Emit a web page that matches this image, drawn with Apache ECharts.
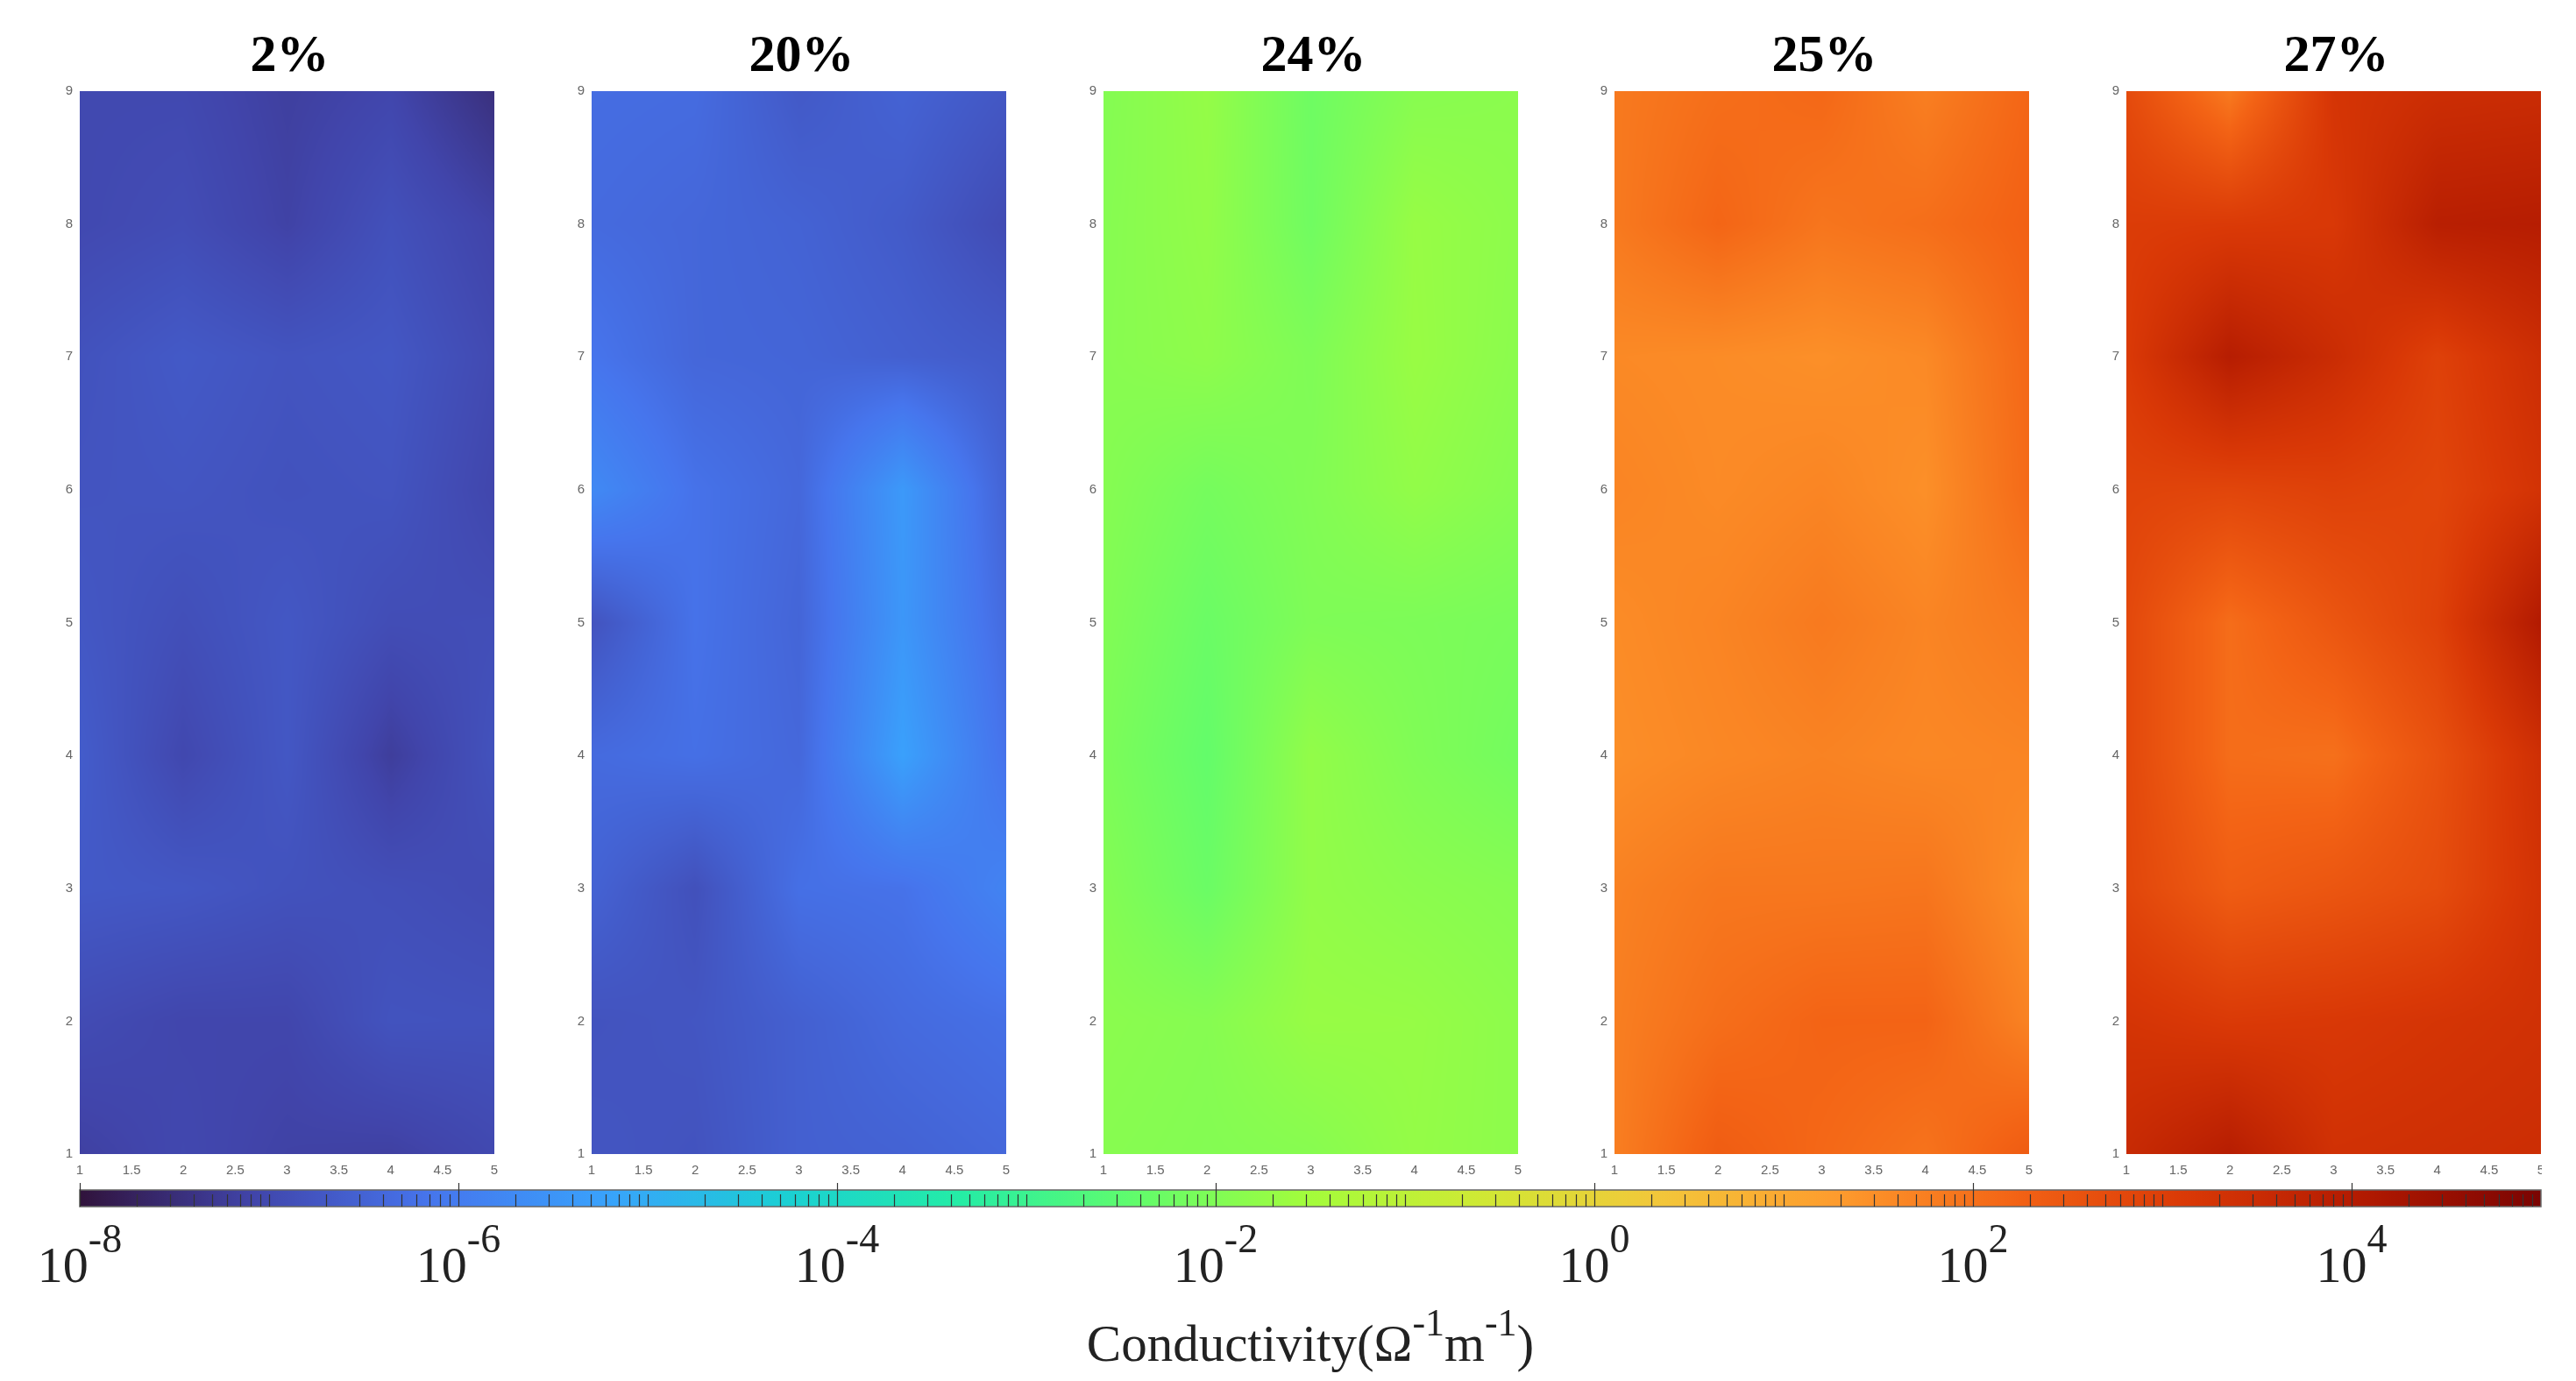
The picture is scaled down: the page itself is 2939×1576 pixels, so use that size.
<!DOCTYPE html>
<html><head><meta charset="utf-8">
<style>html,body{margin:0;padding:0;background:#fff}#c{width:2939px;height:1576px}</style>
<script src="https://cdn.jsdelivr.net/npm/echarts@6/dist/echarts.min.js"></script>
</head><body><div id="c"></div>
<script>
// log10(conductivity) at nodes; rows run y = 9 ... 1, columns x = 1 ... 5
const panelTitles = ['2%','20%','24%','25%','27%'];
const panel2pct = [
 [-7.0,-7.0,-7.17,-7.05,-7.45],
 [-7.0,-6.92,-7.12,-6.85,-7.1],
 [-6.82,-6.68,-6.78,-6.72,-6.98],
 [-6.78,-6.75,-6.82,-6.78,-7.05],
 [-6.72,-6.88,-6.72,-6.92,-6.9],
 [-6.62,-7.02,-6.72,-7.2,-6.82],
 [-6.68,-6.72,-6.82,-6.88,-6.95],
 [-6.95,-7.05,-7.05,-6.8,-6.82],
 [-7.15,-7.02,-7.12,-7.15,-7.0]];
const panel20pct = [
 [-6.3,-6.33,-6.68,-6.5,-6.72],
 [-6.35,-6.42,-6.5,-6.65,-6.95],
 [-6.15,-6.42,-6.45,-6.55,-6.65],
 [-5.72,-6.2,-6.4,-5.4,-6.5],
 [-6.8,-6.2,-6.45,-5.45,-6.35],
 [-6.35,-6.25,-6.4,-5.25,-6.2],
 [-6.5,-6.85,-6.25,-6.2,-5.85],
 [-6.8,-6.75,-6.55,-6.35,-6.25],
 [-6.75,-6.8,-6.55,-6.5,-6.4]];
const panel24pct = [
 [-1.95,-1.72,-2.25,-1.9,-1.85],
 [-1.92,-1.75,-2.22,-1.68,-1.82],
 [-1.9,-1.8,-2.02,-1.66,-1.85],
 [-1.92,-2.15,-1.98,-1.75,-1.92],
 [-1.98,-2.3,-2.02,-2.05,-2.1],
 [-2.05,-2.4,-1.75,-2.0,-2.18],
 [-1.95,-2.3,-1.75,-1.85,-1.92],
 [-1.85,-1.92,-1.68,-1.7,-1.82],
 [-1.9,-1.95,-1.9,-1.72,-1.82]];
const panel25pct = [
 [1.84,2.03,2.14,1.76,2.18],
 [1.84,2.18,1.91,2.03,2.26],
 [1.58,1.54,1.48,1.58,2.14],
 [1.66,1.56,1.65,1.48,2.1],
 [1.54,1.66,1.84,1.66,1.84],
 [1.5,1.61,1.69,1.61,1.66],
 [1.71,1.88,1.88,1.91,1.5],
 [1.76,2.03,2.21,2.21,1.69],
 [1.76,2.35,2.14,1.95,2.38]];
const panel27pct = [
 [2.75,1.83,3.25,3.45,3.5],
 [3.05,3.1,3.15,3.9,3.95],
 [3.1,3.95,3.5,2.95,3.45],
 [2.9,2.85,2.95,2.85,3.3],
 [2.8,2.05,2.5,2.95,4.05],
 [2.8,2.05,2.0,2.6,3.4],
 [2.85,2.35,2.5,2.7,3.3],
 [3.25,3.1,3.15,3.25,3.35],
 [3.55,3.95,3.35,3.4,3.45]];
const panels = [panel2pct, panel20pct, panel24pct, panel25pct, panel27pct];
const nodeXs = [1,2,3,4,5];
const nodeYs = [9,8,7,6,5,4,3,2,1];
const colorbarRange = [-8, 5];
const colorbarDecades = [-8,-7,-6,-5,-4,-3,-2,-1,0,1,2,3,4];
const minorMultipliers = [2,3,4,5,6,7,8,9];
const majorExponents = [-8,-6,-4,-2,0,2,4];
const turboColors = [[48,18,59],[65,69,171],[70,117,237],[57,162,252],[27,207,212],[36,236,166],[97,252,108],[164,252,59],[209,232,52],[243,198,58],[254,155,45],[243,99,21],[217,56,6],[177,25,1],[122,4,2]];

function turbo(t){
  t = Math.max(0, Math.min(1, t)) * (turboColors.length-1);
  const i = Math.min(Math.floor(t), turboColors.length-2), f = t-i;
  const a = turboColors[i], b = turboColors[i+1];
  return [a[0]+(b[0]-a[0])*f, a[1]+(b[1]-a[1])*f, a[2]+(b[2]-a[2])*f].map(Math.round);
}
const toT = v => (v-colorbarRange[0])/(colorbarRange[1]-colorbarRange[0]);

function cellRenderer(rows){
  return function(params, api){
    const xv = api.value(0), yv = api.value(1);
    if (xv >= 5 || yv >= 9) return null;
    const a = api.coord([xv, yv+1]), b = api.coord([xv+1, yv]);
    const x0 = Math.round(a[0]), y0 = Math.round(a[1]), x1 = Math.round(b[0]), y1 = Math.round(b[1]);
    const w = x1-x0, h = y1-y0;
    const c = document.createElement('canvas'); c.width = w; c.height = h;
    const g = c.getContext('2d'), im = g.createImageData(w,h);
    const col = xv-1, row = 9-yv;
    const tl = rows[row-1][col], tr = rows[row-1][col+1], bl = rows[row][col], br = rows[row][col+1];
    for (let j=0;j<h;j++){ const v=(j+.5)/h;
      for (let i=0;i<w;i++){ const u=(i+.5)/w;
        const val = (tl*(1-u)+tr*u)*(1-v)+(bl*(1-u)+br*u)*v;
        const rgb = turbo(toT(val)); const k=(j*w+i)*4;
        im.data[k]=rgb[0]; im.data[k+1]=rgb[1]; im.data[k+2]=rgb[2]; im.data[k+3]=255;
      }
    }
    g.putImageData(im,0,0);
    return {type:'image', silent:true, style:{image:c, x:x0, y:y0, width:w, height:h}};
  };
}

const panelLeft = [91,675,1259,1842,2426], panelW = 473, panelTop = 104, panelH = 1213;
const grids=[], xAxes=[], yAxes=[], series=[], titles=[];
panels.forEach((rows,i)=>{
  grids.push({left:panelLeft[i], top:panelTop, width:panelW, height:panelH, outerBoundsMode:'none'});
  xAxes.push({type:'value', gridIndex:i, min:1, max:5, interval:0.5,
    axisLine:{show:false}, axisTick:{show:false}, splitLine:{show:false},
    axisLabel:{color:'#666', fontSize:15, fontFamily:'Liberation Sans', margin:11}});
  yAxes.push({type:'value', gridIndex:i, min:1, max:9, interval:1,
    axisLine:{show:false}, axisTick:{show:false}, splitLine:{show:false},
    axisLabel:{color:'#666', fontSize:15, fontFamily:'Liberation Sans', margin:8, padding:[4,0,0,0]}});
  const data=[];
  nodeYs.forEach((y,r)=>nodeXs.forEach((x,c)=>data.push([x,y,rows[r][c]])));
  series.push({type:'custom', name:panelTitles[i], xAxisIndex:i, yAxisIndex:i, data,
    encode:{x:0,y:1}, clip:false, animation:false, silent:true, renderItem:cellRenderer(rows)});
  titles.push({text:panelTitles[i], left:panelLeft[i]+panelW/2-2, top:30, textAlign:'center',
    textStyle:{fontFamily:'Liberation Serif', fontWeight:'bold', fontSize:60, color:'#000'}});
});

// colour bar
const cb = panels.length;
grids.push({left:91, top:1358, width:2808, height:19, outerBoundsMode:'none'});
xAxes.push({type:'value', gridIndex:cb, min:colorbarRange[0], max:colorbarRange[1], interval:2,
  axisLine:{show:false}, axisTick:{show:false}, splitLine:{show:false},
  axisLabel:{margin:14, showMaxLabel:false, hideOverlap:false,
    formatter:v=> majorExponents.includes(v) ? '{a|10}{b|'+v+'}' : '',
    rich:{a:{fontFamily:'Liberation Serif',fontSize:58,color:'#222',padding:[28,0,0,0]},
          b:{fontFamily:'Liberation Serif',fontSize:46,color:'#222',padding:[0,0,34,0]}}},
  name:'{a|Conductivity(Ω}{s|-1}{a|m}{s|-1}{a|)}', nameLocation:'middle', nameGap:111,
  nameTextStyle:{rich:{a:{fontFamily:'Liberation Serif',fontSize:59,color:'#222',padding:[20,0,0,0]},
    s:{fontFamily:'Liberation Serif',fontSize:44,color:'#222',padding:[0,0,30,0]}}}});
yAxes.push({type:'value', gridIndex:cb, min:0, max:1, show:false});
series.push({type:'custom', name:'colorbar', xAxisIndex:cb, yAxisIndex:cb, data:[colorbarRange],
  encode:{x:[0,1]}, clip:false, animation:false, silent:true, z:2,
  renderItem:(p,api)=>{
    const a=api.coord([api.value(0),1]), b=api.coord([api.value(1),0]);
    const stops=[]; for(let i=0;i<=128;i++){const c=turbo(i/128); stops.push({offset:i/128,color:`rgb(${c})`});}
    return {type:'rect', shape:{x:a[0],y:a[1],width:b[0]-a[0],height:b[1]-a[1]},
      style:{fill:new echarts.graphic.LinearGradient(0,0,1,0,stops), stroke:'#666', lineWidth:1.5}};
  }});
const tickData=[];
colorbarDecades.forEach(d=>{
  minorMultipliers.forEach(m=>tickData.push([d+Math.log10(m),0]));
  if (d+1<5 && !majorExponents.includes(d+1)) tickData.push([d+1,0]);
});
majorExponents.forEach(e=>tickData.push([e,1]));
series.push({type:'custom', name:'ticks', xAxisIndex:cb, yAxisIndex:cb,
  data:tickData, encode:{x:0}, clip:false, animation:false, silent:true, z:3,
  renderItem:(p,api)=>{
    const major=api.value(1)===1;
    const b=api.coord([api.value(0),0]);
    return {type:'line', shape:{x1:Math.round(b[0])+.5,y1:b[1],x2:Math.round(b[0])+.5,y2:b[1]-(major?27:14)},
      style:{stroke:'#333',lineWidth:1.2}};
  }});

const chart = echarts.init(document.getElementById('c'), null, {renderer:'canvas', width:2939, height:1576});
chart.setOption({backgroundColor:'#fff', animation:false, title:titles, grid:grids, xAxis:xAxes, yAxis:yAxes, series,
  graphic:[{type:'rect', z:100, shape:{x:2900,y:1325,width:30,height:20}, style:{fill:'#fff'}}]});
</script></body></html>
